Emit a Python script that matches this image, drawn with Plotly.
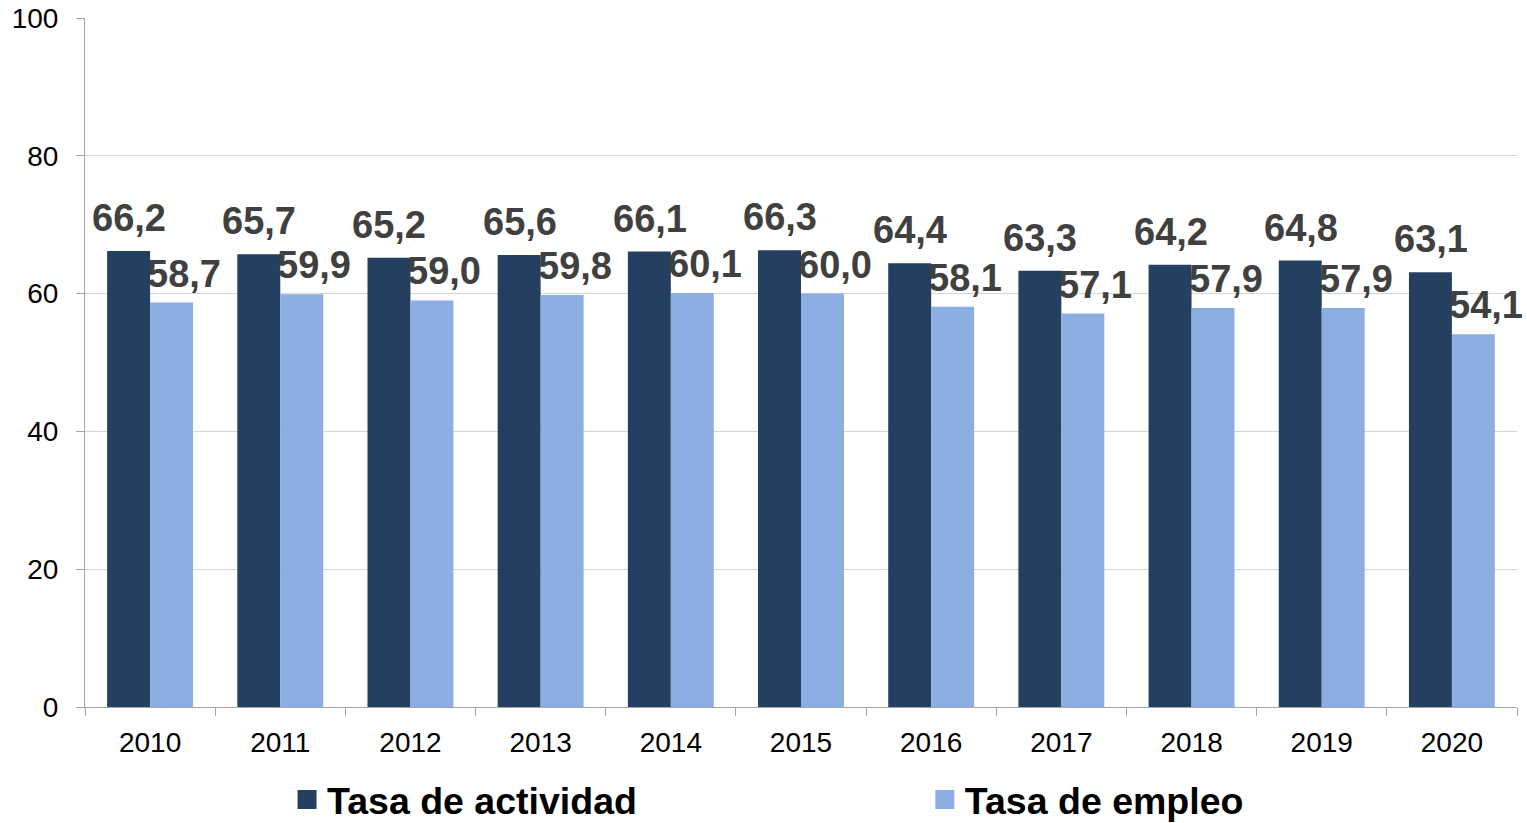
import plotly.graph_objects as go

years = ["2010", "2011", "2012", "2013", "2014", "2015", "2016", "2017", "2018", "2019", "2020"]
actividad = [66.2, 65.7, 65.2, 65.6, 66.1, 66.3, 64.4, 63.3, 64.2, 64.8, 63.1]
empleo = [58.7, 59.9, 59.0, 59.8, 60.1, 60.0, 58.1, 57.1, 57.9, 57.9, 54.1]

DARK = "#243F60"
LIGHT = "#8CAEE2"
FONT = "Liberation Sans, Arial, sans-serif"

def fmt(v):
    return f"{v:.1f}".replace(".", ",")

fig = go.Figure()
fig.add_trace(go.Bar(x=years, y=actividad, marker=dict(color=DARK, line=dict(width=0)),
                     showlegend=False, name="Tasa de actividad", hoverinfo="skip"))
fig.add_trace(go.Bar(x=years, y=empleo, marker=dict(color=LIGHT, line=dict(width=0)),
                     showlegend=False, name="Tasa de empleo", hoverinfo="skip"))

# legend proxies with larger square symbols
fig.add_trace(go.Scatter(x=[years[0]], y=[None], mode="markers", name="Tasa de actividad",
                         marker=dict(symbol="square", size=16, color=DARK,
                                     line=dict(width=3, color=DARK)), legend="legend"))
fig.add_trace(go.Scatter(x=[years[0]], y=[None], mode="markers", name="Tasa de empleo",
                         marker=dict(symbol="square", size=16, color=LIGHT,
                                     line=dict(width=3, color=LIGHT)), legend="legend2"))

annotations = []
for i, (a, e) in enumerate(zip(actividad, empleo)):
    annotations.append(dict(x=i, y=a, xref="x", yref="y", text=fmt(a), showarrow=False,
                            xanchor="center", yanchor="bottom", xshift=-21, yshift=10,
                            font=dict(family=FONT, size=38, color="#404040", weight="bold")))
    annotations.append(dict(x=i, y=e, xref="x", yref="y", text=fmt(e), showarrow=False,
                            xanchor="center", yanchor="bottom", xshift=34, yshift=6,
                            font=dict(family=FONT, size=38, color="#404040", weight="bold")))

legend_common = dict(orientation="h", xanchor="left", y=-0.1345, yanchor="middle",
                     font=dict(family=FONT, size=37.5, color="black", weight="bold"),
                     bgcolor="rgba(0,0,0,0)", borderwidth=0)

fig.update_layout(
    width=1527, height=823,
    margin=dict(l=85, r=10, t=18, b=116, autoexpand=False),
    paper_bgcolor="white", plot_bgcolor="white",
    barmode="group", bargap=0.34, bargroupgap=0,
    font=dict(family=FONT, color="black"),
    annotations=annotations,
    legend=dict(x=0.1411, **legend_common),
    legend2=dict(x=0.5865, **legend_common),
    showlegend=True,
)
fig.update_yaxes(range=[0, 100], dtick=20, showgrid=True, gridcolor="#D4D4D4", gridwidth=1,
                 showline=True, linecolor="#A6A6A6", linewidth=1,
                 ticks="outside", ticklen=8, tickcolor="#A6A6A6", ticklabelstandoff=12,
                 tickfont=dict(family=FONT, size=28, color="black"), zeroline=False,
                 automargin=False)
fig.update_xaxes(type="category", range=[-0.5, 10.5], showline=True, linecolor="#A6A6A6", linewidth=1,
                 ticks="outside", ticklen=8, tickcolor="#A6A6A6", tickson="boundaries",
                 tickangle=0, ticklabelstandoff=10,
                 tickfont=dict(family=FONT, size=28, color="black"), automargin=False)

fig.write_html("out.html", config={"displayModeBar": False},
               post_script="document.body.style.margin='0';document.body.style.overflow='hidden';")
